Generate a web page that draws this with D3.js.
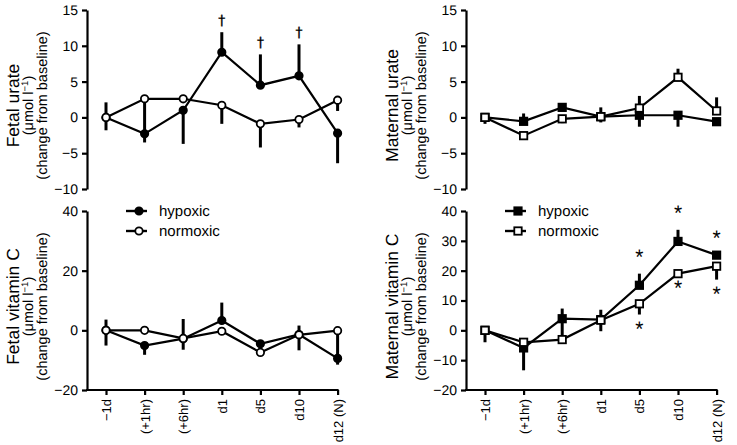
<!DOCTYPE html>
<html>
<head>
<meta charset="utf-8">
<script src="https://cdn.jsdelivr.net/npm/d3@7"></script>
<style>
  html, body { margin: 0; padding: 0; background: #fff; }
  svg { display: block; font-family: "Liberation Sans", Arial, Helvetica, sans-serif; -webkit-font-smoothing: antialiased; }
  text { text-rendering: geometricPrecision; }
</style>
</head>
<body>
<svg id="chart" width="737" height="445"></svg>
<script>
// ---------- DATA ----------
const categories = ["\u22121d", "(+1hr)", "(+6hr)", "d1", "d5", "d10", "d12 (N)"];
const seriesNames = ["hypoxic", "normoxic"];

const urateTicks = [-10, -5, 0, 5, 10, 15];
const vitCTicks = [-20, 0, 20, 40];
const maternalVitCTicks = [-20, -10, 0, 10, 20, 30, 40];

// Fetal urate
const fetalUrateHyp      = [0, -2.3, 1.0, 9.1, 4.5, 5.8, -2.2];
const fetalUrateHypUp    = [2.1, 0, 0, 2.8, 4.3, 4.4, 0];
const fetalUrateHypDown  = [1.8, 1.2, 4.7, 0, 0, 0, 4.2];
const fetalUrateNorm     = [0, 2.6, 2.6, 1.7, -0.9, -0.3, 2.4];
const fetalUrateNormUp   = [0, 0, 0, 0, 0, 0, 0];
const fetalUrateNormDown = [0, 5.0, 0, 2.6, 3.3, 1.1, 1.5];
const fetalUrateDaggers  = ["d1", "d5", "d10"];

// Maternal urate
const maternalUrateHyp      = [0, -0.55, 1.4, 0.1, 0.3, 0.3, -0.6];
const maternalUrateHypUp    = [0, 1.1, 0, 0, 0, 0, 0];
const maternalUrateHypDown  = [0.9, 0, 0, 0.8, 1.6, 1.6, 0];
const maternalUrateNorm     = [0, -2.55, -0.2, 0.1, 1.3, 5.6, 0.9];
const maternalUrateNormUp   = [0, 0, 0, 1.3, 1.7, 1.2, 1.9];
const maternalUrateNormDown = [0, 0, 0.6, 0, 0, 0, 0];

// Fetal vitamin C
const fetalVitCHyp      = [0, -5.1, -2.8, 3.3, -4.5, -1.4, -9.4];
const fetalVitCHypUp    = [3.6, 0, 6.6, 6.0, 0, 3.0, 9.3];
const fetalVitCHypDown  = [5.1, 3.1, 3.7, 0, 0, 5.3, 2.1];
const fetalVitCNorm     = [0, 0, -2.7, -0.3, -7.4, -1.5, -0.1];
const fetalVitCNormUp   = [0, 0, 0, 0, 0, 0, 0];
const fetalVitCNormDown = [0, 0, 0, 0, 0, 0, 0];

// Maternal vitamin C
const maternalVitCHyp      = [0, -5.9, 3.9, 3.6, 15.1, 29.8, 25.2];
const maternalVitCHypUp    = [0, 0, 3.4, 3.3, 3.9, 3.9, 0];
const maternalVitCHypDown  = [4.0, 7.5, 7.0, 0, 0, 0, 0];
const maternalVitCNorm     = [0, -4.0, -3.1, 3.4, 8.9, 19.0, 21.5];
const maternalVitCNormUp   = [0, 0, 0, 0, 0, 0, 0];
const maternalVitCNormDown = [0, 0, 0, 3.7, 3.6, 0, 4.5];
const maternalVitCStarsAbove = ["d5", "d10", "d12 (N)"];
const maternalVitCStarsBelow = ["d5", "d10", "d12 (N)"];

// ---------- DRAWING ----------
const svg = d3.select("#chart");
const FONT = "'Liberation Sans', Arial, Helvetica, sans-serif";

function drawPanel(cfg) {
  const g = svg.append("g");
  const x = d3.scalePoint().domain(categories)
    .range([cfg.ax + 19, cfg.ax + 19 + 6 * 38.6]);
  const y = d3.scaleLinear().domain(cfg.domain).range([cfg.yBot, cfg.yTop]);

  // y axis
  const ya = g.append("g").attr("transform", `translate(${cfg.ax},0)`)
    .call(d3.axisLeft(y).tickValues(cfg.ticks).tickSize(5).tickSizeOuter(0).tickPadding(4)
      .tickFormat(d3.format("d")));
  ya.select(".domain").attr("stroke", "#000").attr("stroke-width", 2.2);
  ya.selectAll(".tick line").attr("stroke", "#000").attr("stroke-width", 2.2);
  ya.selectAll(".tick text").attr("font-family", FONT).attr("font-size", 14).attr("fill", "#000");

  // x axis
  if (cfg.xAxis) {
    const xa = g.append("g").attr("transform", `translate(0,${cfg.yBot})`)
      .call(d3.axisBottom(x).tickSize(5).tickSizeOuter(0));
    xa.select(".domain").remove();
    xa.selectAll(".tick line").attr("stroke", "#000").attr("stroke-width", 2.2);
    xa.selectAll(".tick text")
      .attr("font-family", FONT).attr("font-size", 13).attr("fill", "#000")
      .attr("transform", "rotate(-90)")
      .attr("text-anchor", "end")
      .attr("x", -9).attr("y", 0).attr("dy", "0.35em");
    g.append("line")
      .attr("x1", cfg.ax - 1).attr("x2", x(categories[categories.length - 1]) + 1)
      .attr("y1", cfg.yBot).attr("y2", cfg.yBot)
      .attr("stroke", "#000").attr("stroke-width", 2.2);
  }

  // y title (three lines)
  const cy = (cfg.yTop + cfg.yBot) / 2 + 6;
  const titleLines = [cfg.title, "unit", "(change from baseline)"];
  const tx = [cfg.ax - 68, cfg.ax - 54, cfg.ax - 40];
  const tsize = [17.5, 14.5, 14.5];
  titleLines.forEach((t, i) => {
    const te = g.append("text")
      .attr("transform", `translate(${tx[i]},${cy}) rotate(-90)`)
      .attr("text-anchor", "middle")
      .attr("font-family", FONT).attr("font-size", tsize[i]).attr("fill", "#000");
    if (t === "unit") {
      te.append("tspan").text("(\u03bcmol l");
      te.append("tspan").attr("font-size", 9.5).attr("dy", -5).text("\u22121");
      te.append("tspan").attr("dy", 5).text(")");
    } else {
      te.text(t);
    }
  });

  const series = [
    { name: "hypoxic", v: cfg.hyp, up: cfg.hypUp, down: cfg.hypDown, fill: "#000" },
    { name: "normoxic", v: cfg.norm, up: cfg.normUp, down: cfg.normDown, fill: "#fff" }
  ];

  // error bars
  series.forEach(s => {
    s.v.forEach((val, i) => {
      const cx = x(categories[i]);
      if (s.up[i] > 0) g.append("line").attr("x1", cx).attr("x2", cx)
        .attr("y1", y(val)).attr("y2", y(val + s.up[i]))
        .attr("stroke", "#000").attr("stroke-width", 3);
      if (s.down[i] > 0) g.append("line").attr("x1", cx).attr("x2", cx)
        .attr("y1", y(val)).attr("y2", y(val - s.down[i]))
        .attr("stroke", "#000").attr("stroke-width", 3);
    });
  });

  // lines
  const line = d3.line().x((d, i) => x(categories[i])).y(d => y(d));
  series.forEach(s => {
    g.append("path").datum(s.v).attr("d", line)
      .attr("fill", "none").attr("stroke", "#000").attr("stroke-width", 2.2)
      .attr("stroke-linejoin", "miter");
  });

  // markers
  series.forEach(s => {
    s.v.forEach((val, i) => {
      drawMarker(g, cfg.shape, x(categories[i]), y(val), s.fill);
    });
  });

  // significance symbols
  if (cfg.daggers) {
    cfg.daggers.forEach(c => {
      const i = categories.indexOf(c);
      const top = y(cfg.hyp[i] + cfg.hypUp[i]);
      g.append("text").attr("x", x(c)).attr("y", top - 7)
        .attr("text-anchor", "middle").attr("font-family", "'DejaVu Sans', sans-serif")
        .attr("font-size", 14).attr("fill", "#000").attr("stroke", "#000").attr("stroke-width", 0.3)
        .text("\u2020");
    });
  }
  if (cfg.starsAbove) {
    cfg.starsAbove.forEach(c => {
      const i = categories.indexOf(c);
      const top = y(cfg.hyp[i] + cfg.hypUp[i]);
      g.append("text").attr("x", x(c)).attr("y", top - 10)
        .attr("text-anchor", "middle").attr("font-family", FONT)
        .attr("font-size", 21).attr("fill", "#000").text("*");
    });
  }
  if (cfg.starsBelow) {
    cfg.starsBelow.forEach(c => {
      const i = categories.indexOf(c);
      const bot = y(cfg.norm[i] - cfg.normDown[i]);
      g.append("text").attr("x", x(c)).attr("y", bot + 21)
        .attr("text-anchor", "middle").attr("font-family", FONT)
        .attr("font-size", 21).attr("fill", "#000").text("*");
    });
  }

  // legend
  if (cfg.legend) {
    const lx = cfg.ax + 39;
    [cfg.yTop, cfg.yTop + 20].forEach((ly, k) => {
      g.append("line").attr("x1", lx).attr("x2", lx + 21).attr("y1", ly).attr("y2", ly)
        .attr("stroke", "#000").attr("stroke-width", 2.4);
      drawMarker(g, cfg.shape, lx + 13, ly, series[k].fill);
      g.append("text").attr("x", lx + 33).attr("y", ly).attr("dy", "0.35em")
        .attr("font-family", FONT).attr("font-size", 15).attr("fill", "#000")
        .text(seriesNames[k]);
    });
  }
}

function drawMarker(g, shape, cx, cy, fill) {
  if (shape === "circle") {
    g.append("circle").attr("cx", cx).attr("cy", cy).attr("r", 3.7)
      .attr("fill", fill).attr("stroke", "#000").attr("stroke-width", 1.8);
  } else {
    g.append("rect").attr("x", cx - 3.7).attr("y", cy - 3.7).attr("width", 7.4).attr("height", 7.4)
      .attr("fill", fill).attr("stroke", "#000").attr("stroke-width", 1.8);
  }
}

drawPanel({
  ax: 87, yTop: 10, yBot: 189, domain: [-10, 15], ticks: urateTicks, xAxis: false,
  title: "Fetal urate", shape: "circle",
  hyp: fetalUrateHyp, hypUp: fetalUrateHypUp, hypDown: fetalUrateHypDown,
  norm: fetalUrateNorm, normUp: fetalUrateNormUp, normDown: fetalUrateNormDown,
  daggers: fetalUrateDaggers
});
drawPanel({
  ax: 466, yTop: 10, yBot: 189, domain: [-10, 15], ticks: urateTicks, xAxis: false,
  title: "Maternal urate", shape: "square",
  hyp: maternalUrateHyp, hypUp: maternalUrateHypUp, hypDown: maternalUrateHypDown,
  norm: maternalUrateNorm, normUp: maternalUrateNormUp, normDown: maternalUrateNormDown
});
drawPanel({
  ax: 87, yTop: 211, yBot: 390, domain: [-20, 40], ticks: vitCTicks, xAxis: true,
  title: "Fetal vitamin C", shape: "circle", legend: true,
  hyp: fetalVitCHyp, hypUp: fetalVitCHypUp, hypDown: fetalVitCHypDown,
  norm: fetalVitCNorm, normUp: fetalVitCNormUp, normDown: fetalVitCNormDown
});
drawPanel({
  ax: 466, yTop: 211, yBot: 390, domain: [-20, 40], ticks: maternalVitCTicks, xAxis: true,
  title: "Maternal vitamin C", shape: "square", legend: true,
  hyp: maternalVitCHyp, hypUp: maternalVitCHypUp, hypDown: maternalVitCHypDown,
  norm: maternalVitCNorm, normUp: maternalVitCNormUp, normDown: maternalVitCNormDown,
  starsAbove: maternalVitCStarsAbove, starsBelow: maternalVitCStarsBelow
});
</script>
</body>
</html>
